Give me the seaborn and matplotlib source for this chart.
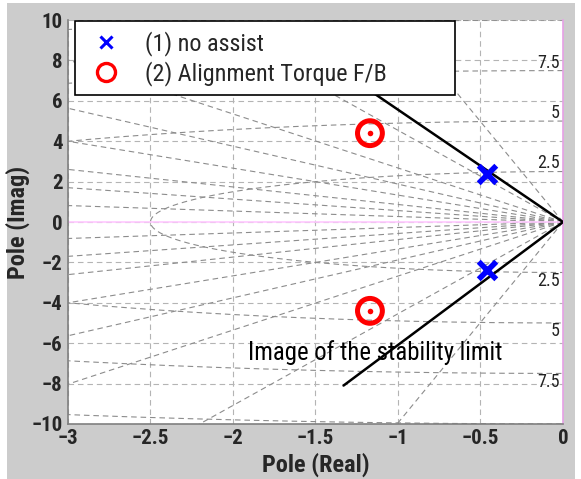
import numpy as np
import pandas as pd
import matplotlib
matplotlib.use('Agg')
import matplotlib.pyplot as plt
import seaborn as sns
from matplotlib import font_manager
from matplotlib.lines import Line2D
from matplotlib.patches import Rectangle

# poles
no_assist_re = [-0.46, -0.46]
no_assist_im = [2.4, -2.4]
align_re = [-1.17, -1.17]
align_im = [4.4, -4.4]

# image of the stability limit (upper end, origin, lower end)
limit_re = [-1.33, 0.0, -1.33]
limit_im = [7.4, 0.0, -8.1]

# s-plane grid: damping ratios and natural frequencies
zeta_vals = [0.1, 0.215, 0.35, 0.47, 0.6, 0.755, 0.87, 0.965]
wn_vals = [2.5, 5, 7.5, 10]
wn_labels = ['2.5', '5', '7.5']

xticks = [-3, -2.5, -2, -1.5, -1, -0.5, 0]
yticks = [-10, -8, -6, -4, -2, 0, 2, 4, 6, 8, 10]

sns.set_style('white')
installed = {f.name for f in font_manager.fontManager.ttflist}
narrow = [n for n in ['Liberation Sans Narrow', 'Roboto Condensed', 'DejaVu Sans Condensed',
                      'Open Sans Condensed', 'Liberation Sans', 'Roboto'] if n in installed]
plt.rcParams['font.family'] = narrow[:1] + ['DejaVu Sans']
plt.rcParams['axes.unicode_minus'] = True

fig = plt.figure(figsize=(5.81, 4.79), dpi=100)
fig.patch.set_facecolor('white')
fig.patches.append(Rectangle((0.012, 0.0), 0.978, 0.994, transform=fig.transFigure,
                             facecolor='#cccccc', edgecolor='none', zorder=-10))
ax = fig.add_axes([0.117, 0.115, 0.852, 0.843])
ax.set_facecolor('white')

grid_kw = dict(color='#8c8c8c', lw=0.8, dashes=(5, 3.5), zorder=1)
# damping ratio rays
for z in zeta_vals:
    r = 12.0
    wd = np.sqrt(1 - z ** 2)
    for sgn in (1, -1):
        ax.plot([0, -z * r], [0, sgn * wd * r], **grid_kw)
# natural frequency arcs
th = np.linspace(np.pi / 2, 3 * np.pi / 2, 400)
for w in wn_vals:
    ax.plot(w * np.cos(th), w * np.sin(th), **grid_kw)
for lab in wn_labels:
    w = float(lab)
    for sgn in (1, -1):
        ax.text(-0.02, sgn * (w + 0.4), lab, ha='right', va='center',
                fontsize=13, color='#222222', zorder=3)

ax.axhline(0, color='#ffc8ff', lw=1.2, zorder=2)

# stability limit line
lim = pd.DataFrame({'re': limit_re, 'im': limit_im})
sns.lineplot(data=lim, x='re', y='im', sort=False, estimator=None, color='black',
             lw=1.8, ax=ax, zorder=4)

# poles
sns.scatterplot(x=no_assist_re, y=no_assist_im, marker='x', color='blue',
                s=160, linewidth=4, ax=ax, zorder=5)
sns.scatterplot(x=align_re, y=align_im, marker='o', color='red',
                s=320, linewidth=3.6, ax=ax, zorder=5)
ax.collections[-1].set_facecolor('none')
ax.collections[-1].set_edgecolor('red')
sns.scatterplot(x=align_re, y=align_im, marker='o', color='red',
                s=16, linewidth=0, ax=ax, zorder=6)

ax.text(-1.91, -6.44, 'Image of the stability limit', fontsize=17.8,
        ha='left', va='center', color='black', zorder=7)

ax.set_xlim(-3, 0)
ax.set_ylim(-10, 10)
ax.set_xticks(xticks)
ax.set_yticks(yticks)
ax.set_xticklabels(['\u22123', '\u22122.5', '\u22122', '\u22121.5', '\u22121', '\u22120.5', '0'])
ax.set_yticklabels(['\u221210', '\u22128', '\u22126', '\u22124', '\u22122', '0',
                    '2', '4', '6', '8', '10'])
ax.tick_params(axis='both', labelsize=15, length=0, pad=4)
for t in ax.get_xticklabels() + ax.get_yticklabels():
    t.set_fontweight('bold')
ax.grid(True, color='#b4b4b4', lw=0.8, linestyle=(0, (5, 3.5)), zorder=0)
ax.set_axisbelow(True)

ax.set_xlabel('Pole (Real)', fontsize=17.5, fontweight='bold', labelpad=3)
ax.set_ylabel('Pole (Imag)', fontsize=17.5, fontweight='bold', labelpad=1)

for side in ['left', 'bottom']:
    ax.spines[side].set_color('#808080')
    ax.spines[side].set_linewidth(1.2)
ax.spines['top'].set_visible(False)
ax.spines['right'].set_color('#e6a0e6')
ax.spines['right'].set_linewidth(1.2)

handles = [
    Line2D([], [], marker='x', color='blue', ls='none', ms=8, mew=2.2),
    Line2D([], [], marker='o', color='red', mfc='none', ls='none', ms=13, mew=2.4),
]
leg = ax.legend(handles, ['(1) no assist', '(2) Alignment Torque F/B'],
                loc='upper left', bbox_to_anchor=(0.014, 0.827, 0.768, 0.17),
                mode='expand', borderaxespad=0,
                fontsize=17.4, frameon=True, fancybox=False, framealpha=1,
                edgecolor='black', handletextpad=0.7, borderpad=0.4,
                labelspacing=0.2, handlelength=1.8)
leg.get_frame().set_linewidth(1.2)
leg.set_zorder(10)

fig.savefig('out.png', dpi=100, facecolor=fig.get_facecolor())
